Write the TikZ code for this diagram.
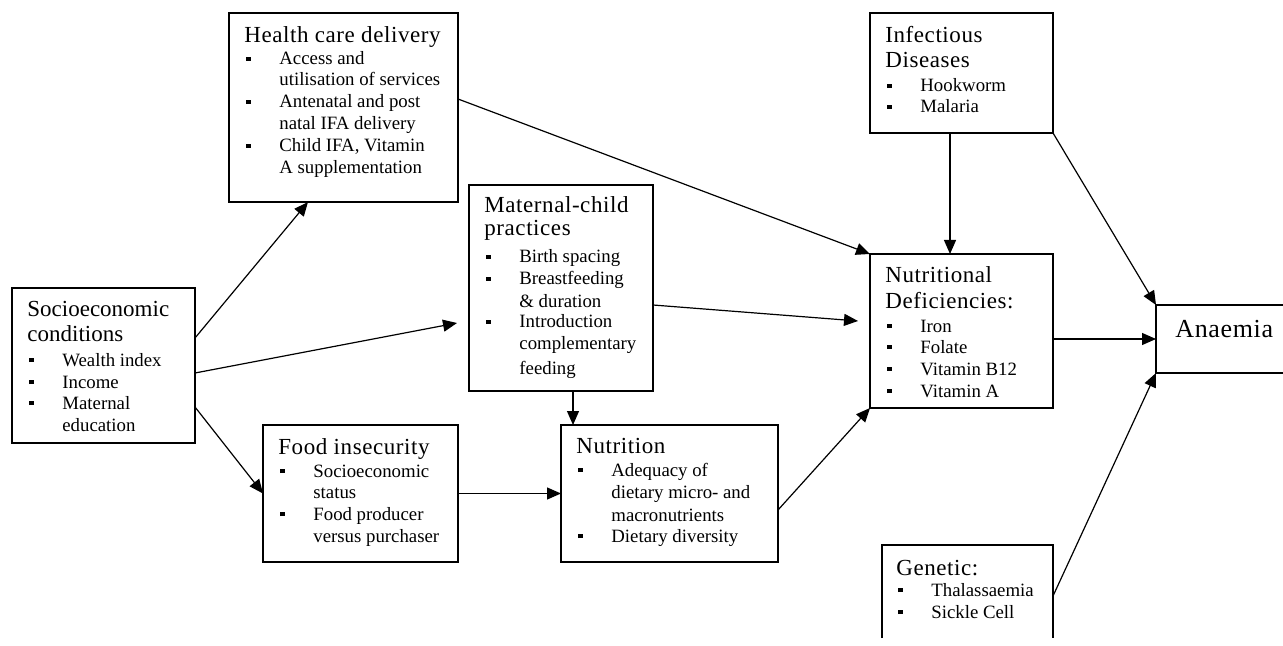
\documentclass[tikz,border=0pt]{standalone}
\usepackage{fontspec}
\setmainfont{Liberation Serif}
\usetikzlibrary{arrows.meta,calc}
\newcommand{\bl}{\makebox[17.5pt][l]{\hspace{1pt}\rule[2pt]{2.2pt}{2.2pt}}}
\newcommand{\ind}{\hspace*{17.5pt}}
\begin{document}
\begin{tikzpicture}[x=0.5pt,y=-0.5pt,
  box/.style={draw, line width=0.65pt, inner sep=0pt, outer sep=0pt},
  ttlplain/.style={anchor=base west, inner sep=0pt, font=\fontsize{11.5pt}{13pt}\selectfont},
  ttl/.style={anchor=base west, inner sep=0pt, font=\fontsize{11.5pt}{13pt}\selectfont\addfontfeature{LetterSpace=2.5}},
  itm/.style={anchor=base west, inner sep=0pt, font=\fontsize{9.4pt}{11pt}\selectfont},
  big/.style={anchor=base west, inner sep=0pt, font=\fontsize{13pt}{15pt}\selectfont\addfontfeature{LetterSpace=2.5}},
  arr/.style={line width=0.6pt, -{Triangle[length=7pt,width=6pt]}},
  ln/.style={line width=0.65pt}]
\useasboundingbox (0,0) rectangle (1283,646);
\clip (0,0) rectangle (1283,646);

% boxes
\node[box, minimum width=114.5pt, minimum height=94.5pt] (hc) at (343.5,107.5) {};
\node[box, minimum width=91.5pt, minimum height=60pt] (inf) at (961.5,73) {};
\node[box, minimum width=92pt, minimum height=103pt] (mc) at (561,288) {};
\node[box, minimum width=91.5pt, minimum height=77.5pt] (soc) at (103.5,365.5) {};
\node[box, minimum width=91.5pt, minimum height=77pt] (nd) at (961.5,331) {};
\node[box, minimum width=72pt, minimum height=34pt] (anb) at (1228,339) {};
\node[box, minimum width=97.5pt, minimum height=68.5pt] (fi) at (360.5,493.5) {};
\node[box, minimum width=108.5pt, minimum height=68.5pt] (nut) at (669.5,493.5) {};
\node[inner sep=0pt, outer sep=0pt, minimum width=85.5pt, minimum height=46.5pt] (gen) at (967.5,591.5) {};
\draw[ln] (gen.south west) -- (gen.north west) -- (gen.north east) -- (gen.south east);

% Health care delivery
\node[ttl] (hc0) at (244,43) {Health care delivery};
\node[itm] (hc1) at (244,65) {\bl Access and};
\node[itm] (hc2) at (244,86) {\ind utilisation of services};
\node[itm] (hc3) at (244,108) {\bl Antenatal and post};
\node[itm] (hc4) at (244,130) {\ind natal IFA delivery};
\node[itm] (hc5) at (244,152) {\bl Child IFA, Vitamin};
\node[itm] (hc6) at (244,174) {\ind A supplementation};

% Infectious Diseases
\node[ttl] (inf0) at (885,43) {Infectious};
\node[ttl] (inf1) at (885,68) {Diseases};
\node[itm] (inf2) at (885,92) {\bl Hookworm};
\node[itm] (inf3) at (885,113) {\bl Malaria};

% Maternal-child practices
\node[ttl] (mc0) at (484,213) {Maternal-child};
\node[ttl] (mc1) at (484,236) {practices};
\node[itm] (mc2) at (484,263) {\bl Birth spacing};
\node[itm] (mc3) at (484,285) {\bl Breastfeeding};
\node[itm] (mc4) at (484,307) {\ind \& duration};
\node[itm] (mc5) at (484,328) {\bl Introduction};
\node[itm] (mc6) at (484,350) {\ind complementary};
\node[itm] (mc7) at (484,374) {\ind feeding};

% Socioeconomic conditions
\node[ttlplain] (soc0) at (27,317) {Socioeconomic};
\node[ttlplain] (soc1) at (27,342) {conditions};
\node[itm] (soc2) at (27,366) {\bl Wealth index};
\node[itm] (soc3) at (27,388) {\bl Income};
\node[itm] (soc4) at (27,409) {\bl Maternal};
\node[itm] (soc5) at (27,431) {\ind education};

% Nutritional Deficiencies
\node[ttl] (nd0) at (885,283) {Nutritional};
\node[ttl] (nd1) at (885,308) {Deficiencies:};
\node[itm] (nd2) at (885,332) {\bl Iron};
\node[itm] (nd3) at (885,353) {\bl Folate};
\node[itm] (nd4) at (885,375) {\bl Vitamin B12};
\node[itm] (nd5) at (885,397) {\bl Vitamin A};

% Anaemia
\node[big] (an) at (1175,337) {Anaemia};

% Food insecurity
\node[ttl] (fi0) at (278,454) {Food insecurity};
\node[itm] (fi1) at (278,477) {\bl Socioeconomic};
\node[itm] (fi2) at (278,498) {\ind status};
\node[itm] (fi3) at (278,520) {\bl Food producer};
\node[itm] (fi4) at (278,542) {\ind versus purchaser};

% Nutrition
\node[ttl] (nut0) at (576,453) {Nutrition};
\node[itm] (nut1) at (576,476) {\bl Adequacy of};
\node[itm] (nut2) at (576,498) {\ind dietary micro- and};
\node[itm] (nut3) at (576,521) {\ind macronutrients};
\node[itm] (nut4) at (576,542) {\bl Dietary diversity};

% Genetic
\node[ttl] (gen0) at (896,575) {Genetic:};
\node[itm] (gen1) at (896,596) {\bl Thalassaemia};
\node[itm] (gen2) at (896,618) {\bl Sickle Cell};

% connectors
\draw[arr] ($(soc.east)+(0,-27.5)$) -- ($(hc.south)+(-35.5,0)$);
\coordinate (mcin) at ($(mc.west)+(-12,35)$);
\draw[arr] ($(soc.east)+(0,7.5)$) -- (mcin);
\draw[arr] ($(soc.east)+(0,41.5)$) -- (fi.west);
\draw[arr] ($(hc.east)+(0,-8.5)$) -- (nd.north west);
\coordinate (ndin) at ($(nd.west)+(-12,-10)$);
\draw[arr] ($(mc.east)+(0,17)$) -- (ndin);
\coordinate (mcout) at ($(mc.south)+(12,0)$);
\draw[arr] (mcout) -- (mcout |- nut.north);
\draw[arr] (fi.east) -- (nut.west);
\draw[arr] ($(nut.east)+(0,16.5)$) -- (nd.south west);
\coordinate (infout) at ($(inf.south)+(-11.5,0)$);
\draw[arr] (infout) -- (infout |- nd.north);
\draw[arr] (inf.south east) -- (anb.north west);
\draw[arr] ($(nd.east)+(0,8)$) -- (anb.west);
\draw[arr] ($(gen.east)+(0,4.5)$) -- (anb.south west);
\end{tikzpicture}
\end{document}
